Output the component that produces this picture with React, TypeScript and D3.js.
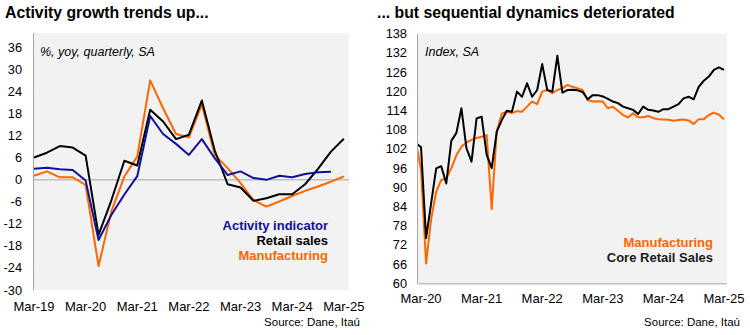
import React from "react";
import * as d3 from "d3";

// ---------- Left chart data (quarterly, % yoy) ----------
const leftQuarters = ["Mar-19","Jun-19","Sep-19","Dec-19","Mar-20","Jun-20","Sep-20","Dec-20","Mar-21","Jun-21","Sep-21","Dec-21","Mar-22","Jun-22","Sep-22","Dec-22","Mar-23","Jun-23","Sep-23","Dec-23","Mar-24","Jun-24","Sep-24","Dec-24","Mar-25"];
const activityIndicator = [3.0, 3.3, 2.9, 2.7, -0.2, -16.4, -9.5, -4.0, 1.0, 17.4, 12.5, 9.8, 6.8, 11.1, 5.9, 1.3, 2.3, 0.5, 0.0, 1.1, 0.7, 1.6, 2.1, 2.2];
const retailSales = [6.1, 7.4, 9.2, 8.8, 6.6, -15.0, -5.5, 5.2, 3.9, 19.1, 15.9, 11.1, 12.3, 21.6, 8.0, -1.2, -2.1, -5.7, -5.0, -3.9, -3.9, -1.2, 3.0, 7.7, 11.2];
const manufacturingYoy = [1.1, 2.3, 0.7, 0.7, -1.4, -23.5, -8.5, 0.9, 6.4, 27.1, 19.5, 12.5, 11.6, 20.5, 6.8, 3.2, -0.9, -5.5, -7.3, -5.9, -4.4, -3.0, -1.8, -0.5, 0.9];
const leftYTicks = [-30, -24, -18, -12, -6, 0, 6, 12, 18, 24, 30, 36];
const leftXLabels = ["Mar-19", "Mar-20", "Mar-21", "Mar-22", "Mar-23", "Mar-24", "Mar-25"];

// ---------- Right chart data (monthly index, from Feb-20 to Mar-25) ----------
const rightStartOffset = -1; // first value is Feb-20 (month index relative to Mar-20)
const coreRetailSales = [103.8, 102.5, 74.1, 85.0, 95.9, 96.6, 91.2, 104.5, 107.0, 114.7, 102.2, 98.0, 111.5, 112.1, 100.1, 96.0, 107.4, 111.0, 113.9, 113.6, 119.9, 118.3, 122.5, 118.3, 120.4, 128.5, 120.4, 119.9, 131.1, 119.6, 120.4, 120.5, 120.3, 119.8, 117.5, 118.8, 118.8, 118.4, 117.6, 116.8, 116.3, 115.2, 114.7, 114.2, 112.9, 115.2, 114.2, 114.0, 113.6, 114.4, 114.4, 115.2, 116.0, 117.8, 118.3, 117.5, 121.4, 123.3, 124.6, 126.7, 127.5, 126.7];
const manufacturingIndex = [104.0, 95.5, 66.2, 80.0, 88.6, 92.3, 92.8, 96.0, 100.0, 102.7, 104.0, 104.8, 105.4, 105.8, 106.3, 83.2, 107.5, 113.0, 113.6, 113.2, 113.8, 113.6, 115.2, 116.8, 116.0, 119.9, 120.4, 119.4, 120.4, 120.9, 122.0, 121.4, 120.9, 120.4, 117.3, 116.8, 116.9, 116.8, 114.7, 115.2, 113.9, 112.6, 111.8, 113.1, 111.9, 111.9, 112.3, 111.6, 111.3, 111.2, 111.1, 110.8, 111.0, 111.2, 110.9, 109.8, 111.3, 111.3, 112.6, 113.3, 112.7, 111.3];
const rightYTicks = [60, 66, 72, 78, 84, 90, 96, 102, 108, 114, 120, 126, 132, 138];
const rightXLabels = ["Mar-20", "Mar-21", "Mar-22", "Mar-23", "Mar-24", "Mar-25"];

const FONT = "'Liberation Sans', Arial, sans-serif";
const BLUE = "#10109c";
const ORANGE = "#ff6600";
const BLACK = "#000000";
const BG = "#f2f2f2";
const AXIS = "#a6a6a6";

function LeftChart() {
  const x = d3.scaleLinear().domain([0, 24.4]).range([34, 349]);
  const y = d3.scaleLinear().domain([-30, 40]).range([290, 33]);
  const line = d3.line<number>().x((_, i) => x(i)).y((d) => y(d));
  return (
    <g>
      <text x={5} y={18} fontFamily={FONT} fontWeight="bold" fontSize={15.8} fill="#000">Activity growth trends up...</text>
      <rect x={x.range()[0]} y={y(40)} width={x.range()[1] - x.range()[0]} height={y(-30) - y(40)} fill={BG} />
      <line x1={x.range()[0]} x2={x.range()[1]} y1={y(0)} y2={y(0)} stroke={AXIS} strokeWidth={1} />
      <line x1={x.range()[0] - 0.5} x2={x.range()[0] - 0.5} y1={y(40)} y2={y(-30)} stroke={AXIS} strokeWidth={1} />
      {leftYTicks.map((t) => (
        <text key={t} x={22} y={y(t) + 4.5} textAnchor="end" fontFamily={FONT} fontSize={12.8} fill="#000">{t}</text>
      ))}
      {leftXLabels.map((l, k) => (
        <text key={l} x={x(k * 4)} y={311} textAnchor="middle" fontFamily={FONT} fontSize={13} fill="#000">{l}</text>
      ))}
      <text x={40} y={56} fontFamily={FONT} fontStyle="italic" fontSize={12.5} fill="#000">%, yoy, quarterly, SA</text>
      <path d={line(manufacturingYoy) || ""} fill="none" stroke={ORANGE} strokeWidth={2} strokeLinejoin="round" />
      <path d={line(retailSales) || ""} fill="none" stroke={BLACK} strokeWidth={2} strokeLinejoin="round" />
      <path d={line(activityIndicator) || ""} fill="none" stroke={BLUE} strokeWidth={2} strokeLinejoin="round" />
      <text x={328} y={230} textAnchor="end" fontFamily={FONT} fontWeight="bold" fontSize={13} fill={BLUE}>Activity indicator</text>
      <text x={328} y={245} textAnchor="end" fontFamily={FONT} fontWeight="bold" fontSize={13} fill={BLACK}>Retail sales</text>
      <text x={328} y={260} textAnchor="end" fontFamily={FONT} fontWeight="bold" fontSize={13} fill={ORANGE}>Manufacturing</text>
      <text x={360} y={326} textAnchor="end" fontFamily={FONT} fontSize={11.5} fill="#000">Source: Dane, Itaú</text>
    </g>
  );
}

function RightChart() {
  const x = d3.scaleLinear().domain([-0.6, 60.6]).range([418, 727]);
  const y = d3.scaleLinear().domain([60, 138]).range([283.3, 33.7]);
  const line = d3.line<number>().x((_, i) => x(i + rightStartOffset)).y((d) => y(d));
  const [x0, x1] = x.range();
  return (
    <g>
      <defs>
        <clipPath id="rclip">
          <rect x={x0} y={y(138) - 5} width={x1 - x0 + 5} height={y(60) - y(138) + 5} />
        </clipPath>
      </defs>
      <text x={377} y={18} fontFamily={FONT} fontWeight="bold" fontSize={15.8} fill="#000">... but sequential dynamics deteriorated</text>
      <rect x={x0} y={y(138)} width={x1 - x0} height={y(60) - y(138)} fill={BG} />
      <line x1={x0 - 0.5} x2={x0 - 0.5} y1={y(138)} y2={y(60)} stroke={AXIS} strokeWidth={1} />
      <line x1={x0 - 0.5} x2={x1} y1={y(60) + 0.5} y2={y(60) + 0.5} stroke={AXIS} strokeWidth={1} />
      {rightYTicks.map((t) => (
        <text key={t} x={407} y={y(t) + 4.5} textAnchor="end" fontFamily={FONT} fontSize={12.8} fill="#000">{t}</text>
      ))}
      {rightXLabels.map((l, k) => (
        <text key={l} x={x(k * 12)} y={303} textAnchor="middle" fontFamily={FONT} fontSize={13} fill="#000">{l}</text>
      ))}
      <text x={425} y={56} fontFamily={FONT} fontStyle="italic" fontSize={12.5} fill="#000">Index, SA</text>
      <g clipPath="url(#rclip)">
        <path d={line(manufacturingIndex) || ""} fill="none" stroke={ORANGE} strokeWidth={2} strokeLinejoin="round" />
        <path d={line(coreRetailSales) || ""} fill="none" stroke={BLACK} strokeWidth={2} strokeLinejoin="round" />
      </g>
      <text x={713} y={247} textAnchor="end" fontFamily={FONT} fontWeight="bold" fontSize={13} fill={ORANGE}>Manufacturing</text>
      <text x={713} y={262} textAnchor="end" fontFamily={FONT} fontWeight="bold" fontSize={13} fill="#1a1a1a">Core Retail Sales</text>
      <text x={740} y={326} textAnchor="end" fontFamily={FONT} fontSize={11.5} fill="#000">Source: Dane, Itaú</text>
    </g>
  );
}

export default function App() {
  return (
    <svg width={750} height={335} style={{ position: "absolute", left: 0, top: 0, background: "#fff" }}>
      <rect x={0} y={0} width={750} height={335} fill="#fff" />
      <LeftChart />
      <RightChart />
    </svg>
  );
}
